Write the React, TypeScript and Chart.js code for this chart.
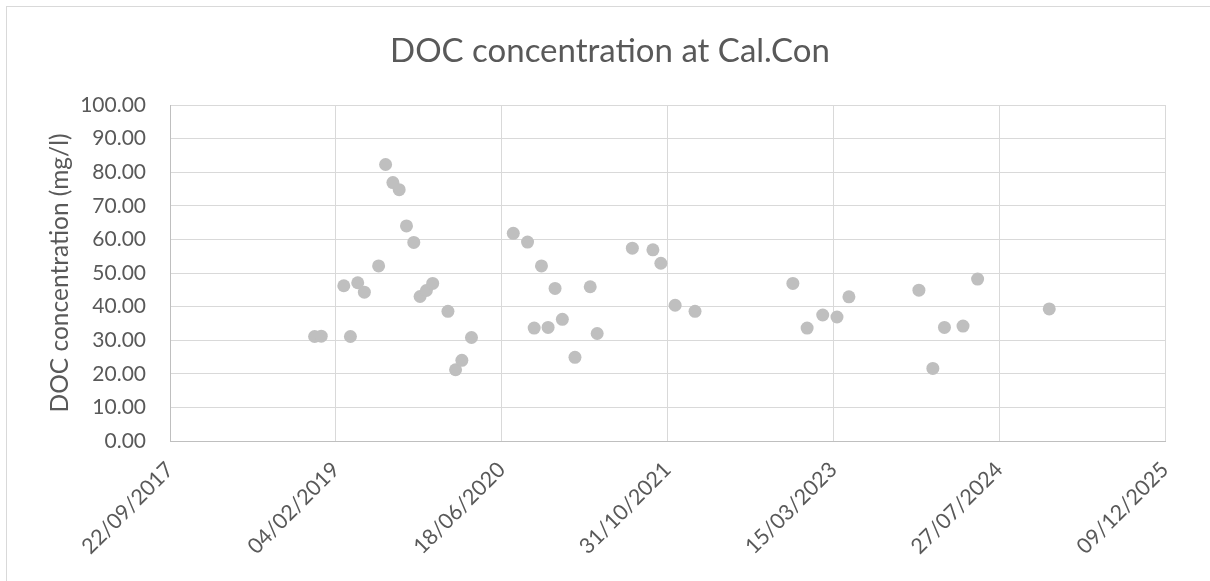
import React, { useEffect, useRef } from "react";
import { Chart, registerables } from "chart.js";

Chart.register(...registerables);

const sampleDates: string[] = [
  "2018-12-02", "2018-12-22", "2019-02-28", "2019-03-20", "2019-04-11",
  "2019-05-01", "2019-06-13", "2019-07-04", "2019-07-26", "2019-08-14",
  "2019-09-05", "2019-09-27", "2019-10-16", "2019-11-04", "2019-11-23",
  "2020-01-08", "2020-01-31", "2020-02-19", "2020-03-19", "2020-07-23",
  "2020-09-04", "2020-09-24", "2020-10-16", "2020-11-05", "2020-11-26",
  "2020-12-18", "2021-01-25", "2021-03-12", "2021-04-02", "2021-07-17",
  "2021-09-17", "2021-10-11", "2021-11-23", "2022-01-22", "2022-11-13",
  "2022-12-26", "2023-02-11", "2023-03-26", "2023-05-01", "2023-11-28",
  "2024-01-09", "2024-02-13", "2024-04-09", "2024-05-23", "2024-12-25",
];

const docValues: number[] = [
  31.1, 31.2, 46.2, 31.1, 47.1,
  44.3, 52.1, 82.3, 76.9, 74.8,
  64.0, 59.1, 43.0, 44.8, 46.9,
  38.6, 21.2, 24.0, 30.8, 61.8,
  59.2, 33.6, 52.1, 33.8, 45.4,
  36.2, 24.9, 45.9, 32.0, 57.4,
  56.9, 52.9, 40.4, 38.6, 46.9,
  33.6, 37.5, 36.9, 42.9, 44.9,
  21.6, 33.8, 34.2, 48.2, 39.3,
];

const xTickDates: string[] = [
  "2017-09-22", "2019-02-04", "2020-06-18", "2021-10-31",
  "2023-03-15", "2024-07-27", "2025-12-09",
];

const yTicks: number[] = [0, 10, 20, 30, 40, 50, 60, 70, 80, 90, 100];

const chartTitle = "DOC concentration at Cal.Con";
const yAxisTitle = "DOC concentration (mg/l)";

const EPOCH = Date.UTC(1899, 11, 30);
const DAY = 86400000;

function toSerial(s: string): number {
  const [y, m, d] = s.split("-").map(Number);
  return Math.round((Date.UTC(y, m - 1, d) - EPOCH) / DAY);
}

function serialToLabel(v: number): string {
  const dt = new Date(EPOCH + v * DAY);
  const dd = String(dt.getUTCDate()).padStart(2, "0");
  const mm = String(dt.getUTCMonth() + 1).padStart(2, "0");
  return `${dd}/${mm}/${dt.getUTCFullYear()}`;
}

const FONT = "Lato, 'Open Sans', sans-serif";
const TEXT = "#595959";

export default function App() {
  const canvasRef = useRef<HTMLCanvasElement | null>(null);

  useEffect(() => {
    if (!canvasRef.current) return;
    const xTickValues = xTickDates.map(toSerial);
    const points = sampleDates.map((d, i) => ({ x: toSerial(d), y: docValues[i] }));

    const chart = new Chart(canvasRef.current, {
      type: "scatter",
      data: {
        datasets: [
          {
            label: "DOC",
            data: points,
            backgroundColor: "#bfbfbf",
            borderWidth: 0,
            pointRadius: 6.5,
            pointHoverRadius: 6.5,
          },
        ],
      },
      options: {
        responsive: true,
        maintainAspectRatio: false,
        animation: false,
        layout: { padding: { left: 55, right: 45, top: 0, bottom: 0 } },
        plugins: {
          legend: { display: false },
          tooltip: { enabled: false },
          title: {
            display: true,
            text: chartTitle,
            color: TEXT,
            font: { family: FONT, size: 33, weight: "normal", lineHeight: 1.2 },
            padding: { top: 32, bottom: 33.4 },
          },
        },
        scales: {
          x: {
            type: "linear",
            min: xTickValues[0],
            max: xTickValues[xTickValues.length - 1],
            afterBuildTicks: (scale: any) => {
              scale.ticks = xTickValues.map((v) => ({ value: v }));
            },
            afterFit: (scale: any) => {
              scale.height = 140;
            },
            grid: { color: "#d9d9d9", lineWidth: 1, drawTicks: false },
            border: { color: "#bfbfbf", width: 1 },
            ticks: {
              color: TEXT,
              font: { family: FONT, size: 21.5 },
              minRotation: 45,
              maxRotation: 45,
              padding: 16,
              autoSkip: false,
              callback: (v: any) => serialToLabel(Number(v)),
            },
          },
          y: {
            min: 0,
            max: 100,
            afterBuildTicks: (scale: any) => {
              scale.ticks = yTicks.map((v) => ({ value: v }));
            },
            afterFit: (scale: any) => {
              scale.width = 115;
            },
            grid: { color: "#d9d9d9", lineWidth: 1, drawTicks: false },
            border: { color: "#bfbfbf", width: 1 },
            ticks: {
              color: TEXT,
              font: { family: FONT, size: 21 },
              padding: 24,
              callback: (v: any) => Number(v).toFixed(2),
            },
            title: {
              display: true,
              text: yAxisTitle,
              color: TEXT,
              font: { family: FONT, size: 24.5, lineHeight: 0.4 },
              padding: { top: 0.1, bottom: 0 },
            },
          },
        },
      },
    });
    return () => chart.destroy();
  }, []);

  return (
    <div
      style={{
        position: "fixed",
        left: 0,
        top: 0,
        width: 1210,
        height: 581,
        overflow: "hidden",
        background: "#ffffff",
      }}
    >
      <div
        style={{
          position: "absolute",
          left: 6,
          top: 6,
          width: 1400,
          height: 800,
          border: "1px solid #d9d9d9",
        }}
      />
      <div style={{ position: "absolute", left: 0, top: 0, width: 1210, height: 581 }}>
        <canvas ref={canvasRef} />
      </div>
    </div>
  );
}
